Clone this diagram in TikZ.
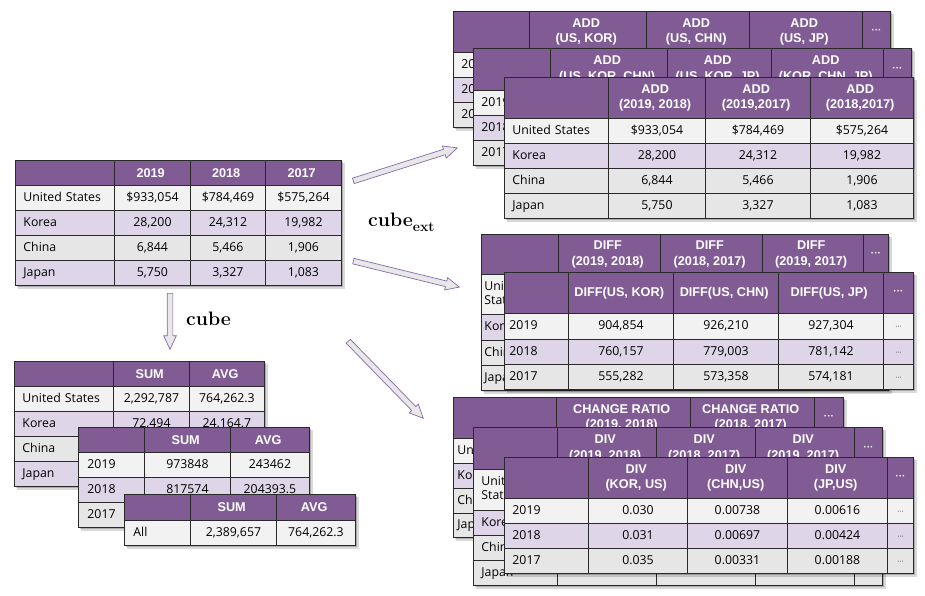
\documentclass[tikz,border=0pt]{standalone}
\usepackage{fontspec}
\newfontfamily\tabf{Open Sans}
\newfontfamily\hdrfam{Liberation Sans}
\usetikzlibrary{matrix,shadows,shapes.arrows,calc}
\definecolor{hdr}{HTML}{805B94}
\definecolor{rowA}{HTML}{F2F2F2}
\definecolor{rowP}{HTML}{DFD5E8}
\definecolor{rowG}{HTML}{E6E6E6}
\definecolor{bord}{HTML}{2A2A2A}
\definecolor{arrF}{HTML}{E8E8E8}
\definecolor{arrD}{HTML}{8A68A6}
\definecolor{dotc}{HTML}{555555}
\newcommand\bodyf{\tabf\fontsize{12.3}{14}\selectfont}
\newcommand\hdrf{\hdrfam\bfseries\fontsize{12.7}{15.5}\selectfont}
\newcommand\hdrdots{{\fontsize{10}{10}\selectfont ···}}
\newcommand\celldots{{\fontsize{8}{8}\selectfont\color{dotc}···}}
\newcommand\two[2]{\begin{tabular}{@{}c@{}}#1\\#2\end{tabular}}
\newcommand\twol[2]{\begin{tabular}{@{}l@{}}#1\\#2\end{tabular}}
\newcommand\fatarrow[3]{\path let \p1=($(#3)-(#2)$), \n1={atan2(\y1,\x1)}, \n2={veclen(\x1,\y1)} in node (#1) [fatarr, anchor=tail, rotate=\n1, minimum height=\n2] at (#2) {};}
\tikzset{
 tbl/.style={matrix of nodes, nodes in empty cells, anchor=north west, inner sep=0pt, outer sep=0pt, fill=white,
   column sep=-0.9pt, row sep=-0.9pt,
   drop shadow={shadow xshift=3pt, shadow yshift=-3pt, opacity=0.15, fill=black},
   drop shadow={shadow xshift=1.5pt, shadow yshift=-1.5pt, opacity=0.2, fill=black},
   nodes={draw=bord, line width=0.9pt, inner xsep=3pt, inner ysep=0pt, outer sep=0pt, anchor=center, font=\bodyf}},
 hdrrow/.style={nodes={minimum height=#1, fill=hdr, text=white, font=\hdrf, align=center}},
 brow/.style 2 args={nodes={minimum height=#1, fill=#2, text height=9pt, text depth=2.6pt}},
 mrow/.style 2 args={nodes={minimum height=#1, fill=#2}},
 fcol/.style 2 args={nodes={text width=#1, inner xsep=#2, align=left}},
 wcol/.style={nodes={minimum width=#1}},
 fatarr/.style={single arrow, draw=arrD, fill=arrF, line width=0.7pt, inner xsep=0pt, inner ysep=2.5pt,
   single arrow head extend=3.5pt, single arrow tip angle=50, single arrow head indent=0pt},
 lbl/.style={font=\bfseries\fontsize{19.5}{21}\selectfont, inner sep=0pt, anchor=base west},
}
\begin{document}
\begin{tikzpicture}[x=1pt,y=-1pt]
\path[use as bounding box, fill=white] (0,0) rectangle (925,596);

% main table
\matrix (M) [tbl, column 1/.style={fcol={83pt}{8pt}}, column 2/.style={wcol=76pt}, column 3/.style={wcol=75pt}, column 4/.style={wcol=76pt},
  row 1/.style={hdrrow=25pt}, row 2/.style={brow={25pt}{rowA}}, row 3/.style={brow={25pt}{rowP}}, row 4/.style={brow={25pt}{rowG}}, row 5/.style={brow={25pt}{rowP}}] at (15,160) {
 & 2019 & 2018 & 2017 \\
United States & \$933,054 & \$784,469 & \$575,264 \\
Korea & 28,200 & 24,312 & 19,982 \\
China & 6,844 & 5,466 & 1,906 \\
Japan & 5,750 & 3,327 & 1,083 \\
};

% arrows and labels
\coordinate (a0s) at (170,293); \coordinate (a0e) at (170,349);
\coordinate (a1s) at (353,181); \coordinate (a1e) at (457,148);
\coordinate (a2s) at (353,261); \coordinate (a2e) at (459,287);
\coordinate (a3s) at (348,341); \coordinate (a3e) at (423,418);
\fatarrow{arr0}{a0s}{a0e}
\fatarrow{arr1}{a1s}{a1e}
\fatarrow{arr2}{a2s}{a2e}
\fatarrow{arr3}{a3s}{a3e}
\node (cubelbl) [lbl] at (186,325) {cube};
\node (cubeext) [lbl] at (368,226) {cube\raisebox{-5pt}{\fontsize{14}{14}\selectfont ext}};

% cube tables
\matrix (SA) [tbl, column 1/.style={fcol={83pt}{8pt}}, column 2/.style={wcol=76pt}, column 3/.style={wcol=75pt},
  row 1/.style={hdrrow=25pt}, row 2/.style={brow={25pt}{rowA}}, row 3/.style={brow={25pt}{rowP}}, row 4/.style={brow={25pt}{rowG}}, row 5/.style={brow={25pt}{rowP}}] at (14,361) {
 & SUM & AVG \\
United States & 2,292,787 & 764,262.3 \\
Korea & 72,494 & 24,164.7 \\
China & & \\
Japan & & \\
};
\matrix (SB) [tbl, column 1/.style={fcol={48pt}{9pt}}, column 2/.style={wcol=86pt}, column 3/.style={wcol=79pt},
  row 1/.style={hdrrow=25pt}, row 2/.style={brow={25pt}{rowA}}, row 3/.style={brow={25pt}{rowP}}, row 4/.style={brow={25pt}{rowG}}] at (78,427) {
 & SUM & AVG \\
2019 & 973848 & 243462 \\
2018 & 817574 & 204393.5 \\
2017 & & \\
};
\matrix (SC) [tbl, column 1/.style={fcol={48pt}{9pt}}, column 2/.style={wcol=86pt}, column 3/.style={wcol=79pt},
  row 1/.style={hdrrow=26pt}, row 2/.style={brow={25pt}{rowA}}] at (124,494) {
 & SUM & AVG \\
All & 2,389,657 & 764,262.3 \\
};

% ADD group
\matrix (T1) [tbl, column 1/.style={fcol={60pt}{8pt}}, column 2/.style={wcol=117pt}, column 3/.style={wcol=103pt}, column 4/.style={wcol=113pt}, column 5/.style={wcol=28pt},
  row 1/.style={hdrrow=41pt}, row 2/.style={brow={25pt}{rowA}}, row 3/.style={brow={25pt}{rowP}}, row 4/.style={brow={25pt}{rowG}}] at (453,11) {
 & \two{ADD}{(US, KOR)} & \two{ADD}{(US, CHN)} & \two{ADD}{(US, JP)} & \hdrdots \\
2019 & & & & \\
2018 & & & & \\
2017 & & & & \\
};
\matrix (T2) [tbl, column 1/.style={fcol={61pt}{8pt}}, column 2/.style={wcol=117pt}, column 3/.style={wcol=104pt}, column 4/.style={wcol=112pt}, column 5/.style={wcol=28pt},
  row 1/.style={hdrrow=42pt}, row 2/.style={brow={25pt}{rowA}}, row 3/.style={brow={25pt}{rowP}}, row 4/.style={brow={25pt}{rowG}}] at (473,48) {
 & \two{ADD}{(US, KOR, CHN)} & \two{ADD}{(US, KOR, JP)} & \two{ADD}{(KOR, CHN, JP)} & \hdrdots \\
2019 & & & & \\
2018 & & & & \\
2017 & & & & \\
};
\matrix (T3) [tbl, column 1/.style={fcol={88pt}{8pt}}, column 2/.style={wcol=97pt}, column 3/.style={wcol=105pt}, column 4/.style={wcol=103pt},
  row 1/.style={hdrrow=41pt}, row 2/.style={brow={25pt}{rowA}}, row 3/.style={brow={25pt}{rowP}}, row 4/.style={brow={25pt}{rowG}}, row 5/.style={brow={25pt}{rowG}}] at (504,77) {
 & \two{ADD}{(2019, 2018)} & \two{ADD}{(2019,2017)} & \two{ADD}{(2018,2017)} \\
United States & \$933,054 & \$784,469 & \$575,264 \\
Korea & 28,200 & 24,312 & 19,982 \\
China & 6,844 & 5,466 & 1,906 \\
Japan & 5,750 & 3,327 & 1,083 \\
};

% DIFF group
\matrix (D1) [tbl, column 1/.style={fcol={71pt}{3pt}}, column 2/.style={wcol=102pt}, column 3/.style={wcol=102pt}, column 4/.style={wcol=101pt}, column 5/.style={wcol=25pt},
  row 1/.style={hdrrow=40pt}, row 2/.style={mrow={40pt}{rowA}}, row 3/.style={brow={26pt}{rowP}}, row 4/.style={brow={25pt}{rowG}}, row 5/.style={brow={25pt}{rowG}}] at (481,234) {
 & \two{DIFF}{(2019, 2018)} & \two{DIFF}{(2018, 2017)} & \two{DIFF}{(2019, 2017)} & \hdrdots \\
\twol{United}{States} & & & & \\
Korea & & & & \\
China & & & & \\
Japan & & & & \\
};
\matrix (D2) [tbl, column 1/.style={fcol={54pt}{5pt}}, column 2/.style={wcol=105pt}, column 3/.style={wcol=105pt}, column 4/.style={wcol=105pt}, column 5/.style={wcol=30pt},
  row 1/.style={hdrrow=41pt}, row 2/.style={brow={26pt}{rowA}}, row 3/.style={brow={25pt}{rowP}}, row 4/.style={brow={25pt}{rowG}}] at (504,272) {
 & DIFF(US, KOR) & DIFF(US, CHN) & DIFF(US, JP) & \hdrdots \\
2019 & 904,854 & 926,210 & 927,304 & \celldots \\
2018 & 760,157 & 779,003 & 781,142 & \celldots \\
2017 & 555,282 & 573,358 & 574,181 & \celldots \\
};

% CHANGE RATIO / DIV group
\matrix (C1) [tbl, column 1/.style={fcol={95pt}{4pt}}, column 2/.style={wcol=134pt}, column 3/.style={wcol=124pt}, column 4/.style={wcol=29pt},
  row 1/.style={hdrrow=41pt}, row 2/.style={brow={25pt}{rowA}}, row 3/.style={brow={25pt}{rowP}}, row 4/.style={brow={25pt}{rowG}}, row 5/.style={brow={24pt}{rowG}}] at (453,397) {
 & \two{CHANGE RATIO}{(2019, 2018)} & \two{CHANGE RATIO}{(2018, 2017)} & \hdrdots \\
United States & & & \\
Korea & & & \\
China & & & \\
Japan & & & \\
};
\matrix (C2) [tbl, column 1/.style={fcol={68pt}{8pt}}, column 2/.style={wcol=99pt}, column 3/.style={wcol=99pt}, column 4/.style={wcol=99pt}, column 5/.style={wcol=28pt},
  row 1/.style={hdrrow=42pt}, row 2/.style={mrow={41pt}{rowA}}, row 3/.style={brow={25pt}{rowP}}, row 4/.style={brow={25pt}{rowG}}, row 5/.style={brow={25pt}{rowG}}] at (473,427) {
 & \two{DIV}{(2019, 2018)} & \two{DIV}{(2018, 2017)} & \two{DIV}{(2019, 2017)} & \hdrdots \\
\twol{United}{States} & & & & \\
Korea & & & & \\
China & & & & \\
Japan & & & & \\
};
\matrix (C3) [tbl, column 1/.style={fcol={68pt}{8pt}}, column 2/.style={wcol=99pt}, column 3/.style={wcol=100pt}, column 4/.style={wcol=100pt}, column 5/.style={wcol=26pt},
  row 1/.style={hdrrow=41pt}, row 2/.style={brow={25pt}{rowA}}, row 3/.style={brow={25pt}{rowP}}, row 4/.style={brow={25pt}{rowG}}] at (504,457) {
 & \two{DIV}{(KOR, US)} & \two{DIV}{(CHN,US)} & \two{DIV}{(JP,US)} & \hdrdots \\
2019 & 0.030 & 0.00738 & 0.00616 & \celldots \\
2018 & 0.031 & 0.00697 & 0.00424 & \celldots \\
2017 & 0.035 & 0.00331 & 0.00188 & \celldots \\
};
\end{tikzpicture}
\end{document}
